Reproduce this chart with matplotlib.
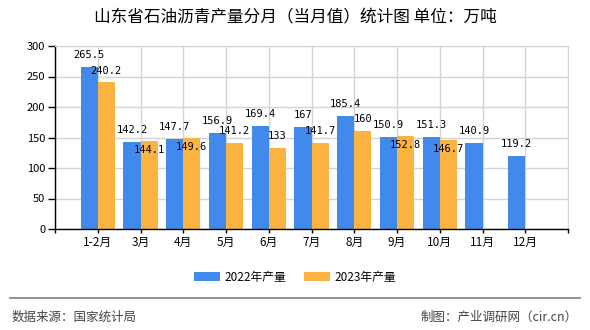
import matplotlib

matplotlib.use("Agg")
import matplotlib.pyplot as plt
import numpy as np

plt.rcParams["font.family"] = ["Noto Sans CJK SC", "DejaVu Sans"]

# data (unit: 10k tonnes)
months = ["1-2月", "3月", "4月", "5月", "6月", "7月", "8月", "9月", "10月", "11月", "12月"]
prod_2022 = [265.5, 142.2, 147.7, 156.9, 169.4, 167, 185.4, 150.9, 151.3, 140.9, 119.2]
prod_2023 = [240.2, 144.1, 149.6, 141.2, 133, 141.7, 160, 152.8, 146.7]
series_names = ["2022年产量", "2023年产量"]
y_ticks = [0, 50, 100, 150, 200, 250, 300]

BLUE = "#418AEC"
ORANGE = "#FBB341"
GRID = "#d3d3d3"

fig = plt.figure(figsize=(5.9, 3.3), dpi=100)
ax = fig.add_axes([55 / 590, 101 / 330, 513 / 590, 183 / 330])

x = np.arange(len(months))
w = 0.4
b1 = ax.bar(x[: len(prod_2022)] - w / 2, prod_2022, w, color=BLUE, label=series_names[0], zorder=2)
b2 = ax.bar(x[: len(prod_2023)] + w / 2, prod_2023, w, color=ORANGE, label=series_names[1], zorder=2)

lbl_kw = dict(ha="center", va="center", fontsize=7.5, family="DejaVu Sans Mono",
              textcoords="offset points", zorder=3)


def fmt(v):
    return f"{v:g}"


for xi, v in zip(x, prod_2022):
    ax.annotate(fmt(v), (xi - w / 2, v), xytext=(0, 8.6), **lbl_kw)
for xi, v, vb in zip(x, prod_2023, prod_2022):
    # when the two labels would collide, the orange one drops into the bar
    dy = -6.5 if abs(v - vb) < 10 else 8.6
    ax.annotate(fmt(v), (xi + w / 2, v), xytext=(0, dy), **lbl_kw)

ax.set_xlim(-1, len(months))
ax.set_ylim(0, 300)
ax.set_yticks(y_ticks)
ax.set_xticks(np.arange(-1, len(months) + 1))
ax.set_xticklabels([""] + months + [""])
ax.tick_params(axis="x", length=3, width=1, labelsize=8.5, pad=2)
ax.tick_params(axis="y", length=5, width=1, labelsize=8, pad=2)
ax.grid(True, color=GRID, linewidth=1, zorder=0)
ax.set_axisbelow(True)
for side in ("top", "right"):
    ax.spines[side].set_color(GRID)
for side in ("left", "bottom"):
    ax.spines[side].set_color("black")
    ax.spines[side].set_linewidth(1)

fig.text(0.5, 1 - 18 / 330, "山东省石油沥青产量分月（当月值）统计图 单位：万吨",
         ha="center", va="center", fontsize=12)

fig.legend(handles=[b1, b2], labels=series_names, loc="center",
           bbox_to_anchor=(0.5, 1 - 277 / 330), ncol=2, frameon=False,
           fontsize=8.5, handlelength=2.2, handleheight=0.8, handletextpad=0.4,
           columnspacing=1.5)

fig.add_artist(plt.Line2D([10 / 590, 580 / 590], [1 - 298 / 330] * 2,
                          color="#808080", linewidth=1.2))
fig.text(12 / 590, 1 - 317 / 330, "数据来源：国家统计局", ha="left", va="center",
         fontsize=9, color="#444444")
fig.text(578 / 590, 1 - 317 / 330, "制图：产业调研网（cir.cn）", ha="right", va="center",
         fontsize=9, color="#444444")

fig.savefig("out.png", dpi=100)
